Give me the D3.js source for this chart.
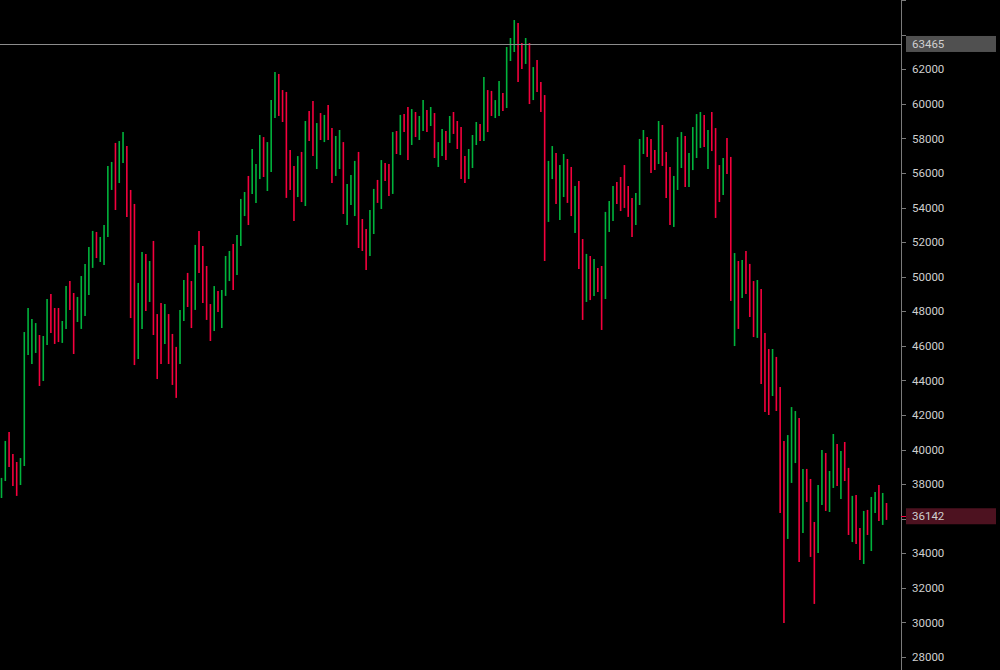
<!DOCTYPE html>
<html>
<head>
<meta charset="utf-8">
<script src="https://cdn.jsdelivr.net/npm/d3@7"></script>
<style>
  body { margin: 0; background: #000; }
  .axis-line { stroke: #7a7a7a; stroke-width: 1; }
  .price-tick { stroke: #7a7a7a; stroke-width: 1; }
  .price-label { fill: #cfcfcf; font-family: Roboto, "Liberation Sans", sans-serif; font-size: 11.5px; }
  .cross-line { stroke: #8c8c8c; stroke-width: 1; }
</style>
</head>
<body>
<div id="chart"></div>
<script>
// highs / lows per bar, direction 1 = up (green), 0 = down (red)
const highs = [
  38360, 40500, 41020, 39750, 39280, 39510, 46800, 48190, 47560, 47320,
  46630, 46570, 48710, 49000, 48190, 48190, 47440, 49460, 49750, 49060,
  48830, 50040, 50740, 51720, 52650, 52590, 52300, 52990, 56410, 56640,
  57740, 57850, 58370, 57560, 55020, 54210, 49640, 51430, 51320, 50910,
  52070, 47840, 48480, 48420, 47840, 46690, 45940, 48080, 49810, 50220,
  49750, 51840, 52650, 51780, 50620, 48420, 49460, 49180, 49230, 51200,
  51490, 51890, 52410, 54500, 54900, 55830, 57390, 56520, 58200, 58080,
  57790, 60220, 61840, 61730, 60800, 60690, 57330, 56410, 56980, 57220,
  59010, 59590, 60170, 58890, 59470, 59360, 59940, 58600, 58140, 58490,
  57790, 55370, 55890, 56700, 57220, 53340, 52760, 53860, 55080, 55600,
  56750, 56580, 56520, 58370, 58430, 59360, 59410, 59820, 59700, 59530,
  59300, 60220, 59650, 59820, 59470, 57790, 58550, 58430, 59300, 59530,
  59010, 58660, 56980, 57390, 58200, 58950, 58840, 61560, 60800, 60750,
  60220, 61320, 60630, 63290, 63810, 64850, 64680, 63520, 63810, 63520,
  62130, 62540, 61270, 60510, 56700, 57560, 57160, 56460, 57100, 56810,
  56350, 55250, 55540, 52180, 51320, 51200, 51030, 50510, 50620, 53750,
  54380, 55250, 55480, 55770, 56460, 55250, 54560, 54840, 57970, 58490,
  58080, 57970, 57330, 59010, 58780, 57220, 56350, 55830, 58080, 58370,
  58140, 57160, 58660, 59410, 59530, 59360, 58490, 59530, 58600, 56460,
  56870, 58030, 56930, 51370, 50910, 50970, 51490, 50740, 49750, 49810,
  49290, 46750, 45820, 45820, 45360, 43620, 40500, 40840, 42460, 42230,
  41830, 38880, 38880, 38300, 35810, 37950, 39980, 39800, 38760, 40900,
  40320, 39920, 40440, 38940, 37320, 37370, 35460, 36450, 36510, 37260,
  37550, 37950, 37490, 36910
];
const lows = [
  37200, 38180, 38990, 37890, 37320, 37950, 39050, 45470, 44950, 45590,
  43680, 43970, 46050, 46750, 46110, 46220, 46170, 46980, 48080, 45530,
  47380, 46980, 47730, 48940, 50510, 51080, 50850, 50680, 52300, 55020,
  53860, 55420, 56580, 53460, 47610, 44890, 45240, 46980, 48020, 48540,
  46630, 44080, 44950, 46110, 44950, 43740, 42990, 44950, 47440, 48250,
  47030, 48080, 50220, 48480, 47500, 46280, 46860, 47960, 47030, 48890,
  49750, 49230, 50100, 51780, 53510, 52990, 54790, 54270, 55650, 55770,
  54960, 56060, 59180, 59300, 58950, 54560, 55020, 53220, 54610, 54320,
  54090, 57850, 56980, 56230, 57910, 57790, 57910, 55420, 55830, 56230,
  53630, 52990, 54150, 53510, 51660, 51490, 50390, 51200, 52470, 54270,
  53920, 55540, 54670, 54790, 57100, 57040, 58370, 56750, 57620, 58080,
  57910, 58430, 58370, 58720, 56870, 56350, 56980, 56750, 57740, 58260,
  57390, 55650, 55420, 55650, 56290, 57620, 57850, 57850, 58370, 59300,
  59180, 59300, 59590, 59760, 62480, 63000, 61270, 62020, 62310, 59990,
  60220, 60690, 59530, 50910, 53170, 55650, 54210, 53280, 54610, 54270,
  53510, 52530, 50450, 47500, 48540, 48650, 48890, 49120, 46920, 48710,
  52590, 53220, 54210, 53800, 53980, 53460, 52300, 52990, 54150, 57100,
  56930, 56000, 56170, 56520, 56410, 54560, 52990, 52880, 55020, 56290,
  55190, 55190, 56170, 56870, 57450, 57510, 56230, 57270, 53400, 54320,
  54730, 55940, 48600, 45990, 46980, 48770, 49000, 47670, 46510, 46460,
  43800, 42180, 42000, 43100, 42230, 36330, 29970, 34830, 38070, 39220,
  33500, 35180, 36970, 33790, 31070, 34020, 36800, 36450, 36390, 37780,
  37890, 37140, 38180, 35060, 34650, 34540, 33610, 33380, 35060, 34130,
  36330, 35870, 35640, 35930
];
const directions = [
  1,1,0,0,0,1,1,1,1,1, 0,1,1,0,0,0,1,1,0,0, 1,1,1,1,1,0,1,1,1,1,
  0,1,1,0,0,0,1,1,0,1, 0,0,0,1,0,0,0,1,1,0, 0,1,0,0,0,0,1,0,1,1,
  1,0,1,1,1,0,1,1,1,0, 1,1,1,0,0,0,0,0,1,0, 1,0,0,1,0,1,0,0,1,1,
  0,1,1,1,0,0,0,1,1,0, 1,0,0,1,0,1,0,0,1,0, 1,1,0,1,0,1,1,0,1,0,
  0,0,0,1,1,1,0,1,0,0, 1,1,0,1,1,1,0,0,1,0, 1,0,0,0,1,1,0,1,1,0,
  0,1,0,0,1,0,1,0,0,1, 1,1,0,0,0,0,0,1,1,1, 0,0,0,1,0,0,0,1,1,1,
  0,1,1,1,1,0,1,0,0,0, 1,0,0,1,0,1,0,0,0,1, 0,0,0,1,0,0,0,1,1,1,
  0,1,0,0,0,1,1,0,1,1, 0,1,0,0,1,0,0,1,0,1, 1,0,1,0
];
const priceTicks = d3.range(28000, 66001, 2000);
const crosshairPrice = 63465;
const lastPrice = 36142;

function renderChart(){
  let total_width = 1000;
  let total_height = 670;
  let axis_x = 901;

  let bars = highs.map((h, i) => ({i: i, high: h, low: lows[i], up: directions[i] === 1}));
  console.log("bars", bars.length);

  let x = d3.scaleLinear().domain([0, bars.length - 1]).range([1.5, 886.5]);
  let y = d3.scaleLinear().domain([28000, 62000]).range([657, 69.3]);

  let svg = d3.select("#chart").append("svg")
    .attr("width", total_width)
    .attr("height", total_height)
    .style("display", "block");

  svg.append("rect").attr("width", total_width).attr("height", total_height).attr("fill", "#000");

  // bars (high-low lines)
  svg.append("g").selectAll("line").data(bars).enter().append("line")
    .attr("x1", d => x(d.i))
    .attr("x2", d => x(d.i))
    .attr("y1", d => y(d.high))
    .attr("y2", d => y(d.low))
    .attr("stroke", d => d.up ? "#00b33c" : "#f5003d")
    .attr("stroke-width", 1.6);

  // crosshair horizontal
  svg.append("line")
    .attr("class", "cross-line")
    .attr("x1", 0).attr("x2", axis_x)
    .attr("y1", Math.round(y(crosshairPrice)) + 0.5)
    .attr("y2", Math.round(y(crosshairPrice)) + 0.5);

  // price axis
  svg.append("line").attr("class", "axis-line")
    .attr("x1", axis_x + 0.5).attr("x2", axis_x + 0.5)
    .attr("y1", 0).attr("y2", total_height);

  let tickG = svg.append("g");
  tickG.selectAll("line").data(priceTicks).enter().append("line")
    .attr("class", "price-tick")
    .attr("x1", axis_x).attr("x2", axis_x + 5)
    .attr("y1", d => Math.round(y(d)) + 0.5)
    .attr("y2", d => Math.round(y(d)) + 0.5);

  // labels hidden where a price box sits on top of them, or too near the top edge
  let boxes = [crosshairPrice, lastPrice].map(p => y(p));
  let visibleTicks = priceTicks.filter(t => y(t) > 10 && boxes.every(b => Math.abs(y(t) - b) > 14));
  tickG.selectAll("text").data(visibleTicks).enter().append("text")
    .attr("class", "price-label")
    .attr("x", axis_x + 11)
    .attr("y", d => y(d))
    .attr("dy", "0.36em")
    .text(d => d);

  // last price marker
  svg.append("line")
    .attr("x1", axis_x).attr("x2", axis_x + 5)
    .attr("y1", Math.round(y(lastPrice)) + 0.5)
    .attr("y2", Math.round(y(lastPrice)) + 0.5)
    .attr("stroke", "#f5003d");
  svg.append("rect")
    .attr("x", axis_x + 5).attr("y", y(lastPrice) - 8)
    .attr("width", 90).attr("height", 16)
    .attr("fill", "#4d1220");
  svg.append("text")
    .attr("class", "price-label")
    .attr("x", axis_x + 11).attr("y", y(lastPrice))
    .attr("dy", "0.36em")
    .text(lastPrice);

  // crosshair price box
  svg.append("rect")
    .attr("x", axis_x + 5).attr("y", y(crosshairPrice) - 8)
    .attr("width", 90).attr("height", 16)
    .attr("fill", "#505050");
  svg.append("text")
    .attr("class", "price-label")
    .attr("x", axis_x + 11).attr("y", y(crosshairPrice))
    .attr("dy", "0.36em")
    .text(crosshairPrice);
}

renderChart();
</script>
</body>
</html>
